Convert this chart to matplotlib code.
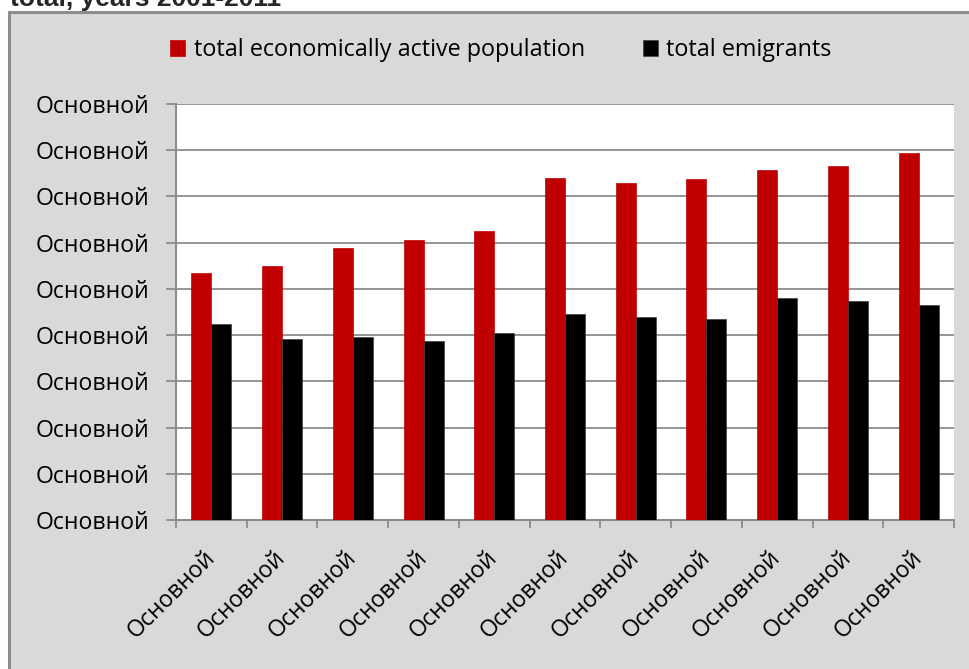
import matplotlib
matplotlib.use("Agg")
import matplotlib.pyplot as plt
import matplotlib.patches as mpatches
import numpy as np

categories = ["Основной"] * 11
y_tick_labels = ["Основной"] * 10
active_population = [5.34, 5.50, 5.88, 6.06, 6.25, 7.40, 7.29, 7.38, 7.57, 7.66, 7.94]
emigrants = [4.24, 3.92, 3.96, 3.87, 4.05, 4.46, 4.39, 4.35, 4.80, 4.74, 4.65]
series_names = ["total economically active population", "total emigrants"]
title = "total, years 2001-2011"

plt.rcParams['font.family'] = ['Open Sans', 'DejaVu Sans']

W, H = 969, 669
fig = plt.figure(figsize=(W / 100, H / 100), dpi=100)
fig.patch.set_facecolor('white')

# gray chart area background with border
bg = mpatches.Rectangle((8.5 / W, -0.05), 1.2, 1 - 11.5 / H + 0.05,
                        transform=fig.transFigure, facecolor='#D9D9D9',
                        edgecolor='#8C8C8C', linewidth=2.2, zorder=-10)
fig.patches.append(bg)

fig.text(10 / W, 1 - 6 / H, title, fontsize=19, fontweight='bold',
         family=['Liberation Sans', 'DejaVu Sans'], va='baseline', ha='left',
         color='#262626')

ax = fig.add_axes([176 / W, 1 - 520 / H, (954 - 176) / W, (520 - 104) / H])
ax.set_facecolor('white')

x = np.arange(len(categories))
bw = 0.283
b1 = ax.bar(x - bw / 2, active_population, width=bw, color='#C00000',
            edgecolor='#C00000', linewidth=0.5, zorder=3, label=series_names[0])
b2 = ax.bar(x + bw / 2, emigrants, width=bw, color='#000000',
            edgecolor='#404040', linewidth=0.5, zorder=3, label=series_names[1])

ax.set_xlim(-0.5, len(categories) - 0.5)
ax.set_ylim(0, 9)
ax.set_yticks(np.arange(10))
ax.set_yticklabels(y_tick_labels, fontsize=16.6, color='black')
ax.yaxis.grid(True, color='#8C8C8C', linewidth=1.3, zorder=1)
ax.set_axisbelow(True)

ax.set_xticks(x)
ax.set_xticklabels(categories, rotation=45, ha='right', va='center',
                   rotation_mode='anchor', fontsize=16.6)
ax.set_xticks(np.arange(-0.5, len(categories) + 0.5, 1), minor=True)
ax.tick_params(axis='x', which='major', length=0, pad=25)
ax.tick_params(axis='x', which='minor', length=6, width=1.3, color='#8C8C8C')
ax.tick_params(axis='y', length=7, width=1.3, color='#8C8C8C', pad=12)

for s in ['top', 'right']:
    ax.spines[s].set_visible(False)
for s in ['left', 'bottom']:
    ax.spines[s].set_color('#8C8C8C')
    ax.spines[s].set_linewidth(1.5)

fig.legend(handles=[b1, b2], labels=series_names, loc='center',
           bbox_to_anchor=(501 / W, 1 - 50 / H), ncol=2, frameon=False,
           fontsize=16.8, handlelength=0.65, handleheight=0.65,
           handletextpad=0.35, columnspacing=2.5)

fig.savefig('out.png', dpi=100, facecolor=fig.get_facecolor())
